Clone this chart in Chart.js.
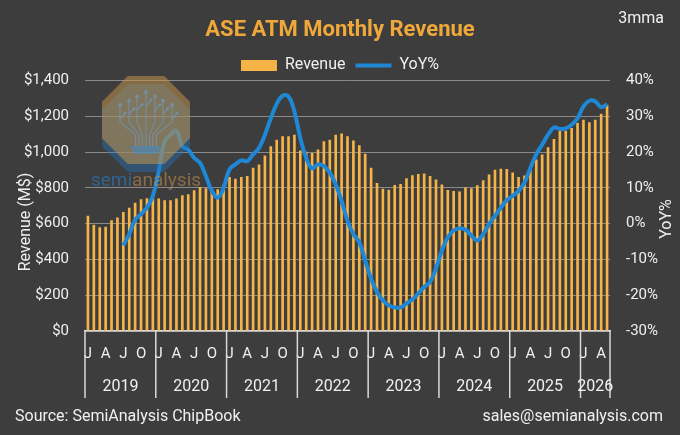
<!DOCTYPE html>
<html>
<head>
<meta charset="utf-8">
<script src="https://cdn.jsdelivr.net/npm/chart.js@4.4.1/dist/chart.umd.min.js"></script>
<style>
html,body{margin:0;padding:0;background:#3d3d3d;overflow:hidden;}
#wrap{width:680px;height:435px;position:relative;}
</style>
</head>
<body>
<div id="wrap"><canvas id="c" width="680" height="435"></canvas></div>
<script>
// ---------- DATA ----------
const years = [2019, 2020, 2021, 2022, 2023, 2024, 2025, 2026];
const monthsPerYear = [12, 12, 12, 12, 12, 12, 12, 5];
const monthTickLetters = ['J', '', '', 'A', '', '', 'J', '', '', 'O', '', ''];

// Revenue (M$), 3-month moving average, Jan 2019 .. May 2026
const revenue = [
  644, 594, 580, 583, 620, 635, 665, 690, 718, 737, 743, 746,
  741, 731, 731, 741, 759, 765, 787, 805, 798, 793, 793, 820,
  861, 852, 861, 867, 913, 931, 982, 1033, 1070, 1089, 1089, 1098,
  1009, 1002, 996, 1015, 1061, 1070, 1098, 1104, 1089, 1065, 1039, 991,
  913, 828, 795, 790, 817, 822, 855, 871, 878, 881, 867, 847,
  820, 789, 783, 780, 802, 798, 815, 843, 876, 902, 907, 906,
  887, 861, 870, 922, 959, 987, 1028, 1074, 1120, 1120, 1135, 1163,
  1181, 1167, 1181, 1215, 1265
];

// YoY growth (%), Jan 2019 .. May 2026
const yoy = [
  null, null, null, null, null, null, -6.1, -2.9, 1.1, 2.7, 4.5, 7.8,
  14.7, 23.0, 24.9, 26.0, 21.7, 20.7, 18.4, 17.0, 13.3, 9.2, 7.3, 10.1,
  15.2, 16.6, 17.7, 17.5, 19.4, 21.2, 24.9, 29.5, 33.5, 35.8, 35.6, 31.4,
  24.0, 18.4, 15.5, 16.6, 16.1, 14.3, 11.0, 6.4, 0.8, -2.9, -5.2, -10.3,
  -15.4, -19.1, -21.4, -22.8, -23.4, -23.4, -22.3, -21.2, -19.5, -17.7, -16.3, -12.5,
  -7.5, -3.8, -1.9, -1.3, -1.7, -3.3, -4.7, -2.9, -0.1, 2.2, 4.5, 6.6,
  7.8, 9.2, 11.5, 15.6, 19.4, 22.1, 24.9, 26.9, 26.5, 26.7, 27.7, 29.5,
  32.8, 34.4, 34.2, 32.6, 33.4
];

// ---------- CATEGORIES ----------
const categories = [];
years.forEach((y, yi) => {
  for (let m = 1; m <= monthsPerYear[yi]; m++) categories.push(y + '-' + String(m).padStart(2, '0'));
});

const FONT = 'Roboto, "Noto Sans", Arial, sans-serif';
const TEXT = '#f0f0f0';

const extras = {
  id: 'extras',
  beforeDraw(chart) {
    const ctx = chart.ctx;
    ctx.save();
    ctx.fillStyle = '#3d3d3d';
    ctx.fillRect(0, 0, chart.width, chart.height);
    ctx.restore();
  },
  afterDatasetsDraw(chart) {
    const ctx = chart.ctx;
    ctx.save();
    const cx = 146, cy = 120, R = 47.6;
    const oct = (ox, oy) => {
      ctx.beginPath();
      for (let k = 0; k < 8; k++) {
        const a = (22.5 + 45 * k) * Math.PI / 180;
        const px = ox + R * Math.cos(a), py = oy + R * Math.sin(a);
        if (k === 0) ctx.moveTo(px, py); else ctx.lineTo(px, py);
      }
      ctx.closePath();
    };
    oct(cx, cy + 8);
    ctx.fillStyle = 'rgba(35,115,185,0.42)';
    ctx.fill();
    oct(cx, cy);
    ctx.fillStyle = 'rgba(200,150,75,0.52)';
    ctx.fill();
    // stylised tree
    ctx.strokeStyle = 'rgba(110,160,205,0.55)';
    ctx.fillStyle = 'rgba(110,160,205,0.55)';
    ctx.lineWidth = 1.2;
    const xs = [-26, -17, -9, 0, 9, 17, 26];
    xs.forEach(dx => {
      const topY = 92 + Math.abs(dx) * 0.5;
      ctx.beginPath();
      ctx.moveTo(cx + dx * 0.4, 146);
      ctx.lineTo(cx + dx * 0.4, 135);
      ctx.lineTo(cx + dx, 122);
      ctx.lineTo(cx + dx, topY);
      ctx.stroke();
      ctx.beginPath(); ctx.arc(cx + dx, topY, 2, 0, Math.PI * 2); ctx.fill();
      ctx.beginPath();
      ctx.moveTo(cx + dx, topY + 14); ctx.lineTo(cx + dx + 5, topY + 8); ctx.stroke();
      ctx.beginPath(); ctx.arc(cx + dx + 5, topY + 8, 1.6, 0, Math.PI * 2); ctx.fill();
    });
    ctx.fillStyle = 'rgba(60,140,210,0.55)';
    ctx.beginPath();
    ctx.moveTo(cx - 16, 146); ctx.lineTo(cx + 16, 146); ctx.lineTo(cx + 11, 154); ctx.lineTo(cx - 11, 154);
    ctx.closePath(); ctx.fill();
    // text
    ctx.font = '19px ' + FONT;
    ctx.textBaseline = 'middle';
    const w1 = ctx.measureText('semi').width, w2 = ctx.measureText('analysis').width;
    const sx = cx - (w1 + w2) / 2;
    ctx.textAlign = 'left';
    ctx.fillStyle = 'rgba(40,125,200,0.6)';
    ctx.fillText('semi', sx, 181);
    ctx.fillStyle = 'rgba(200,150,75,0.55)';
    ctx.fillText('analysis', sx + w1, 181);
    ctx.restore();
  },
  afterDraw(chart) {
    const ctx = chart.ctx;
    const xs = chart.scales.x;
    const area = chart.chartArea;
    const n = categories.length;
    const catW = (xs.right - xs.left) / n;
    ctx.save();
    // year separators and labels
    ctx.strokeStyle = '#d9d9d9';
    ctx.lineWidth = 1.5;
    let idx = 0;
    const bounds = [];
    years.forEach((y, yi) => { bounds.push(xs.left + idx * catW); idx += monthsPerYear[yi]; });
    bounds.push(xs.left + idx * catW);
    bounds.forEach(bx => {
      ctx.beginPath();
      ctx.moveTo(bx, area.bottom);
      ctx.lineTo(bx, 398);
      ctx.stroke();
    });
    ctx.fillStyle = TEXT;
    ctx.font = '16px ' + FONT;
    ctx.textAlign = 'center';
    ctx.textBaseline = 'middle';
    years.forEach((y, yi) => {
      ctx.fillText(String(y), (bounds[yi] + bounds[yi + 1]) / 2, 387);
    });
    // 3mma
    ctx.font = '16px ' + FONT;
    ctx.textAlign = 'right';
    ctx.fillText('3mma', 664, 19);
    // footer
    ctx.font = '16px ' + FONT;
    ctx.textAlign = 'left';
    ctx.fillText('Source: SemiAnalysis ChipBook', 15, 417);
    ctx.textAlign = 'right';
    ctx.fillText('sales@semianalysis.com', 663, 417);
    // axis titles
    ctx.font = '16px ' + FONT;
    ctx.textAlign = 'center';
    ctx.save();
    ctx.translate(26, 222);
    ctx.rotate(-Math.PI / 2);
    ctx.fillText('Revenue (M$)', 0, 0);
    ctx.restore();
    ctx.save();
    ctx.translate(667, 219);
    ctx.rotate(-Math.PI / 2);
    ctx.fillText('YoY%', 0, 0);
    ctx.restore();
    ctx.restore();
  }
};

new Chart(document.getElementById('c'), {
  data: {
    labels: categories,
    datasets: [
      {
        type: 'bar',
        label: 'Revenue',
        data: revenue,
        yAxisID: 'y',
        backgroundColor: '#F6B447',
        borderWidth: 0,
        barPercentage: 0.9,
        categoryPercentage: 0.5,
        pointStyle: 'rect',
        order: 2
      },
      {
        type: 'line',
        label: 'YoY%',
        data: yoy,
        yAxisID: 'y1',
        borderColor: '#1E88D6',
        backgroundColor: '#1E88D6',
        borderWidth: 4,
        pointRadius: 0,
        pointHoverRadius: 0,
        pointStyle: 'line',
        tension: 0.4,
        fill: false,
        order: 1
      }
    ]
  },
  options: {
    responsive: false,
    animation: false,
    layout: { padding: { left: 0, right: 0, top: 0, bottom: 0 } },
    plugins: {
      tooltip: { enabled: false },
      title: {
        display: true,
        text: 'ASE ATM Monthly Revenue',
        color: '#F0A83A',
        font: { family: FONT, size: 22, weight: 'bold' },
        padding: { top: 17, bottom: 4 }
      },
      legend: {
        display: true,
        position: 'top',
        maxHeight: 33.3,
        labels: {
          color: TEXT,
          font: { family: FONT, size: 16 },
          usePointStyle: true,
          pointStyleWidth: 36,
          boxHeight: 11,
          padding: 10,
          sort: (a, b) => a.datasetIndex - b.datasetIndex
        }
      }
    },
    scales: {
      x: {
        type: 'category',
        offset: true,
        grid: { display: false, drawTicks: false },
        border: { display: true, color: '#d9d9d9', width: 1.5 },
        ticks: {
          autoSkip: false,
          maxRotation: 0,
          minRotation: 0,
          color: TEXT,
          font: { family: FONT, size: 15 },
          padding: 14,
          callback: (value, index) => monthTickLetters[index % 12]
        },
        afterFit: s => { s.height = 104; }
      },
      y: {
        position: 'left',
        min: 0,
        max: 1400,
        grid: { color: '#8a8a8a', lineWidth: 1, drawTicks: false },
        border: { display: false },
        ticks: {
          stepSize: 200,
          color: TEXT,
          font: { family: FONT, size: 15 },
          padding: 16,
          callback: v => '$' + Number(v).toLocaleString('en-US')
        },
        afterFit: s => { s.width = 85; }
      },
      y1: {
        position: 'right',
        min: -30,
        max: 40,
        grid: { display: false, drawTicks: false },
        border: { display: false },
        ticks: {
          stepSize: 10,
          color: TEXT,
          font: { family: FONT, size: 15 },
          padding: 16,
          callback: v => v + '%'
        },
        afterFit: s => { s.width = 70; }
      }
    }
  },
  plugins: [extras]
});
</script>
</body>
</html>
